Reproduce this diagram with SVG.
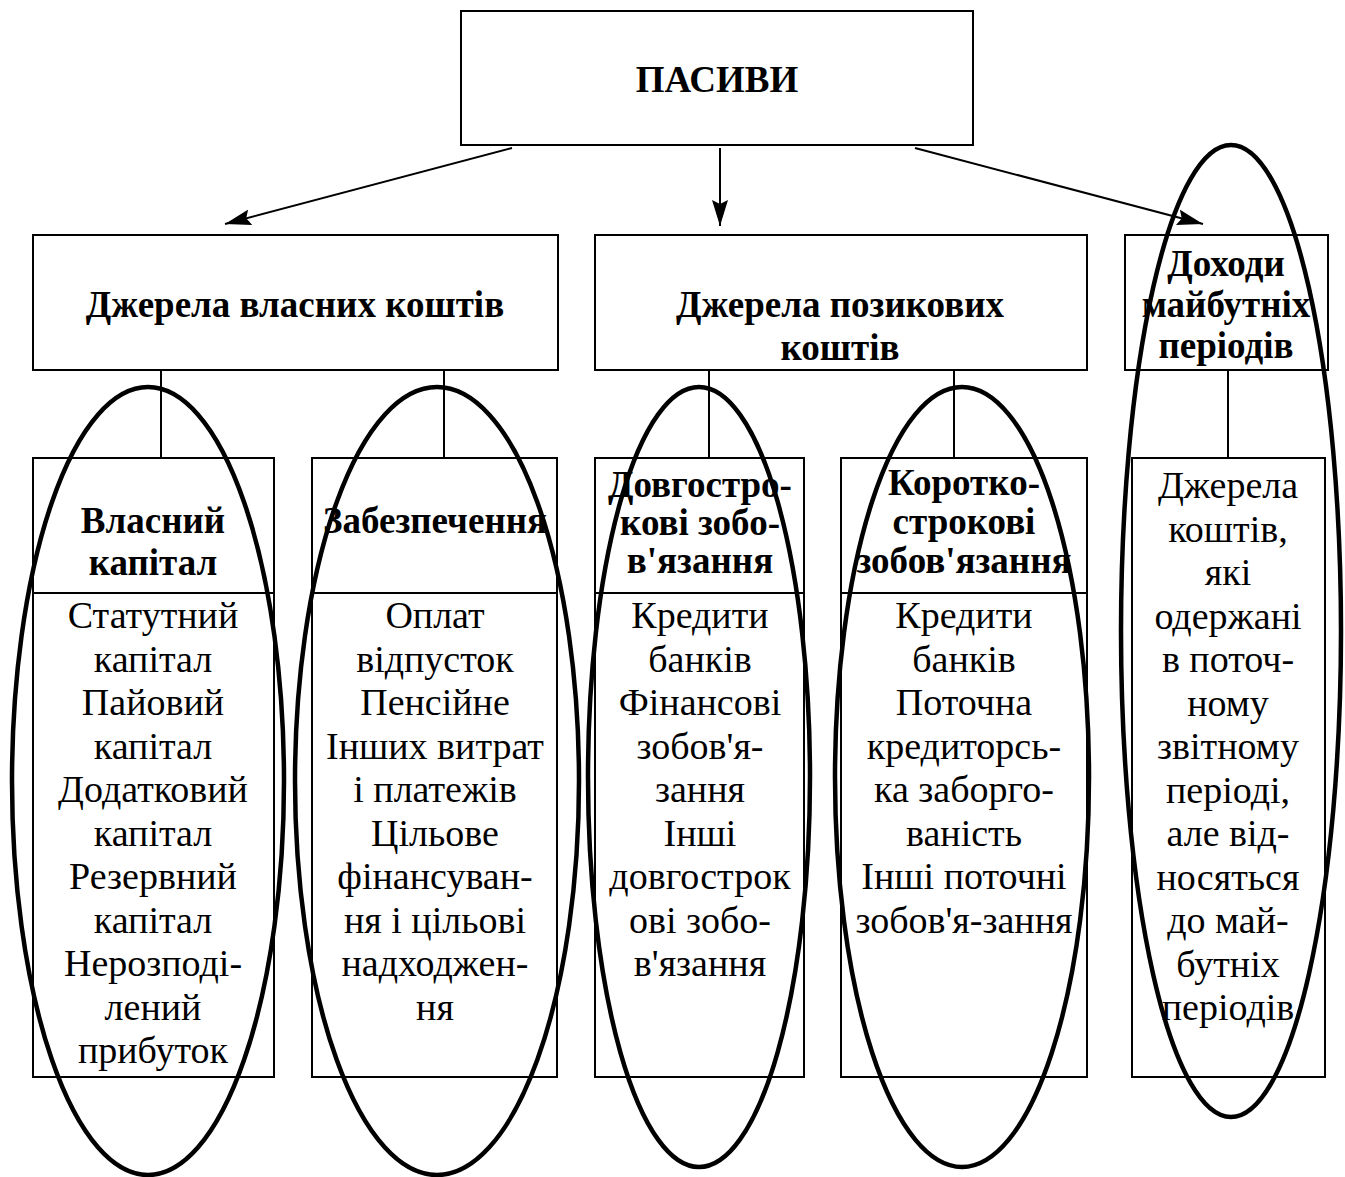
<svg xmlns="http://www.w3.org/2000/svg" width="1345" height="1177" viewBox="0 0 1345 1177">
  <style>
    .box { fill: #fff; stroke: #000; stroke-width: 2; }
    .ln { fill: none; stroke: #000; stroke-width: 2; }
    .oval { fill: none; stroke: #000; stroke-width: 4.5; }
    text { font-family: "Liberation Serif", "Times New Roman", serif; font-size: 38px; fill: #000; text-anchor: middle; }
    .b { font-weight: bold; font-size: 37px; }
  </style>
  <defs>
    <marker id="head" viewBox="0 0 26 16" refX="26" refY="8" markerWidth="26" markerHeight="16" markerUnits="userSpaceOnUse" orient="auto">
      <path d="M0,0 L26,8 L0,16 L4,8 Z" fill="#000"/>
    </marker>
  </defs>

  <rect width="1345" height="1177" fill="#fff"/>

  <!-- top level -->
  <g id="n-pasyvy">
    <rect class="box" x="461" y="11" width="512" height="134"/>
    <text class="b" x="717" y="92">ПАСИВИ</text>
  </g>

  <!-- second level -->
  <g id="n-vlasni">
    <rect class="box" x="33" y="235" width="525" height="135"/>
    <text class="b" x="295" y="317">Джерела власних коштів</text>
  </g>
  <g id="n-pozykovi">
    <rect class="box" x="595" y="235" width="492" height="135"/>
    <text class="b" x="840" y="317">Джерела позикових</text>
    <text class="b" x="840" y="360">коштів</text>
  </g>
  <g id="n-dokhody">
    <rect class="box" x="1125" y="235" width="203" height="135"/>
    <text class="b" x="1226" y="276">Доходи</text>
    <text class="b" x="1226" y="317">майбутніх</text>
    <text class="b" x="1226" y="358">періодів</text>
  </g>

  <!-- connectors -->
  <g id="connectors">
    <line class="ln" x1="512" y1="148" x2="225" y2="224" marker-end="url(#head)"/>
    <line class="ln" x1="720" y1="148" x2="720" y2="226" marker-end="url(#head)"/>
    <line class="ln" x1="915" y1="148" x2="1203" y2="224" marker-end="url(#head)"/>
    <line class="ln" x1="161" y1="370" x2="161" y2="458"/>
    <line class="ln" x1="444" y1="370" x2="444" y2="458"/>
    <line class="ln" x1="709" y1="370" x2="709" y2="458"/>
    <line class="ln" x1="954" y1="370" x2="954" y2="458"/>
    <line class="ln" x1="1228" y1="370" x2="1228" y2="458"/>
  </g>

  <!-- third level -->
  <g id="n-vlasnyi-kapital">
    <rect class="box" x="33" y="458" width="241" height="619"/>
    <line class="ln" x1="33" y1="593" x2="274" y2="593"/>
    <text class="b" x="153" y="533">Власний</text>
    <text class="b" x="153" y="575">капітал</text>
    <text x="153" y="628">Статутний</text>
    <text x="153" y="671.5">капітал</text>
    <text x="153" y="715">Пайовий</text>
    <text x="153" y="758.5">капітал</text>
    <text x="153" y="802">Додатковий</text>
    <text x="153" y="845.5">капітал</text>
    <text x="153" y="889">Резервний</text>
    <text x="153" y="932.5">капітал</text>
    <text x="153" y="976">Нерозподі-</text>
    <text x="153" y="1019.5">лений</text>
    <text x="153" y="1063">прибуток</text>
  </g>

  <g id="n-zabezpechennia">
    <rect class="box" x="312" y="458" width="245" height="619"/>
    <line class="ln" x1="312" y1="593" x2="557" y2="593"/>
    <text class="b" x="435" y="533">Забезпечення</text>
    <text x="435" y="628">Оплат</text>
    <text x="435" y="671.5">відпусток</text>
    <text x="435" y="715">Пенсійне</text>
    <text x="435" y="758.5">Інших витрат</text>
    <text x="435" y="802">і платежів</text>
    <text x="435" y="845.5">Цільове</text>
    <text x="435" y="889">фінансуван-</text>
    <text x="435" y="932.5">ня і цільові</text>
    <text x="435" y="976">надходжен-</text>
    <text x="435" y="1019.5">ня</text>
  </g>

  <g id="n-dovhostrokovi">
    <rect class="box" x="595" y="458" width="209" height="619"/>
    <line class="ln" x1="595" y1="593" x2="804" y2="593"/>
    <text class="b" x="700" y="497">Довгостро-</text>
    <text class="b" x="700" y="535">кові зобо-</text>
    <text class="b" x="700" y="573">в'язання</text>
    <text x="700" y="628">Кредити</text>
    <text x="700" y="671.5">банків</text>
    <text x="700" y="715">Фінансові</text>
    <text x="700" y="758.5">зобов'я-</text>
    <text x="700" y="802">зання</text>
    <text x="700" y="845.5">Інші</text>
    <text x="700" y="889">довгострок</text>
    <text x="700" y="932.5">ові зобо-</text>
    <text x="700" y="976">в'язання</text>
  </g>

  <g id="n-korotkostrokovi">
    <rect class="box" x="841" y="458" width="246" height="619"/>
    <line class="ln" x1="841" y1="593" x2="1087" y2="593"/>
    <text class="b" x="964" y="495">Коротко-</text>
    <text class="b" x="964" y="534">строкові</text>
    <text class="b" x="964" y="573">зобов'язання</text>
    <text x="964" y="628">Кредити</text>
    <text x="964" y="671.5">банків</text>
    <text x="964" y="715">Поточна</text>
    <text x="964" y="758.5">кредиторсь-</text>
    <text x="964" y="802">ка заборго-</text>
    <text x="964" y="845.5">ваність</text>
    <text x="964" y="889">Інші поточні</text>
    <text x="964" y="932.5">зобов'я-зання</text>
  </g>

  <g id="n-dokhody-detail">
    <rect class="box" x="1132" y="458" width="193" height="619"/>
    <text x="1228" y="498">Джерела</text>
    <text x="1228" y="541.5">коштів,</text>
    <text x="1228" y="585">які</text>
    <text x="1228" y="628.5">одержані</text>
    <text x="1228" y="672">в поточ-</text>
    <text x="1228" y="715.5">ному</text>
    <text x="1228" y="759">звітному</text>
    <text x="1228" y="802.5">періоді,</text>
    <text x="1228" y="846">але від-</text>
    <text x="1228" y="889.5">носяться</text>
    <text x="1228" y="933">до май-</text>
    <text x="1228" y="976.5">бутніх</text>
    <text x="1228" y="1020">періодів</text>
  </g>

  <!-- grouping ovals -->
  <g id="ovals">
    <ellipse class="oval" cx="148" cy="781" rx="136" ry="394"/>
    <ellipse class="oval" cx="437" cy="781" rx="142" ry="394"/>
    <ellipse class="oval" cx="699" cy="777" rx="111" ry="390"/>
    <ellipse class="oval" cx="962" cy="777" rx="127" ry="390"/>
    <ellipse class="oval" cx="1231" cy="631" rx="110" ry="486"/>
  </g>
</svg>
